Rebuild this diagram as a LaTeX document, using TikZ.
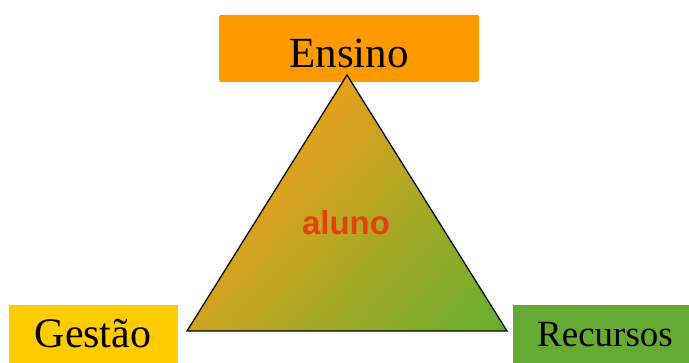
\documentclass[tikz,border=0pt]{standalone}
\usepackage{fontspec}
\setmainfont{Liberation Serif}
\newfontfamily\labelsans{Liberation Sans}
\definecolor{ensinoC}{HTML}{FF9900}
\definecolor{gestaoC}{HTML}{FFCC00}
\definecolor{recursosC}{HTML}{66AA33}
\definecolor{triA}{HTML}{E8A01C}
\definecolor{triB}{HTML}{64B030}
\definecolor{alunoC}{HTML}{E8400C}
\begin{document}
\begin{tikzpicture}[x=1pt,y=-1pt,
  labelbox/.style={inner sep=0pt, anchor=base, text=black}]
\useasboundingbox (0,0) rectangle (689,363);
% boxes
\fill[ensinoC, rounded corners=1.5pt] (219,15) rectangle (479,82);
\node[labelbox, font=\fontsize{43}{45}\selectfont] (ensino) at (349,68) {Ensino};
\fill[gestaoC] (9,305) rectangle (178,370);
\node[labelbox, font=\fontsize{42}{44}\selectfont] (gestao) at (93,348) {Gestão};
\fill[recursosC] (513,305) rectangle (700,370);
\node[labelbox, font=\fontsize{37}{39}\selectfont] (recursos) at (605,347) {Recursos};
% triangle
\coordinate (apex) at (347,75);
\coordinate (bl) at (187,331);
\coordinate (br) at (507,331);
\begin{scope}
  \clip (apex) -- (br) -- (bl) -- cycle;
  \foreach \i in {0,...,59} {
    \pgfmathsetmacro\ta{\i*4.8667-0.6}
    \pgfmathsetmacro\tb{(\i+1)*4.8667+0.6}
    \pgfmathsetmacro\pc{(\i+0.5)*1.6667}
    \fill[triB!\pc!triA]
      ({347+0.730*\ta-0.683*350},{75+0.683*\ta+0.730*350}) --
      ({347+0.730*\tb-0.683*350},{75+0.683*\tb+0.730*350}) --
      ({347+0.730*\tb+0.683*350},{75+0.683*\tb-0.730*350}) --
      ({347+0.730*\ta+0.683*350},{75+0.683*\ta-0.730*350}) -- cycle;
  }
\end{scope}
\draw[black, line width=1.3pt, line join=miter] (apex) -- (br) -- (bl) -- cycle;
\node[font=\labelsans\bfseries\fontsize{33}{35}\selectfont, text=alunoC, anchor=base, inner sep=0pt] (aluno) at (346,235) {aluno};
\end{tikzpicture}
\end{document}
